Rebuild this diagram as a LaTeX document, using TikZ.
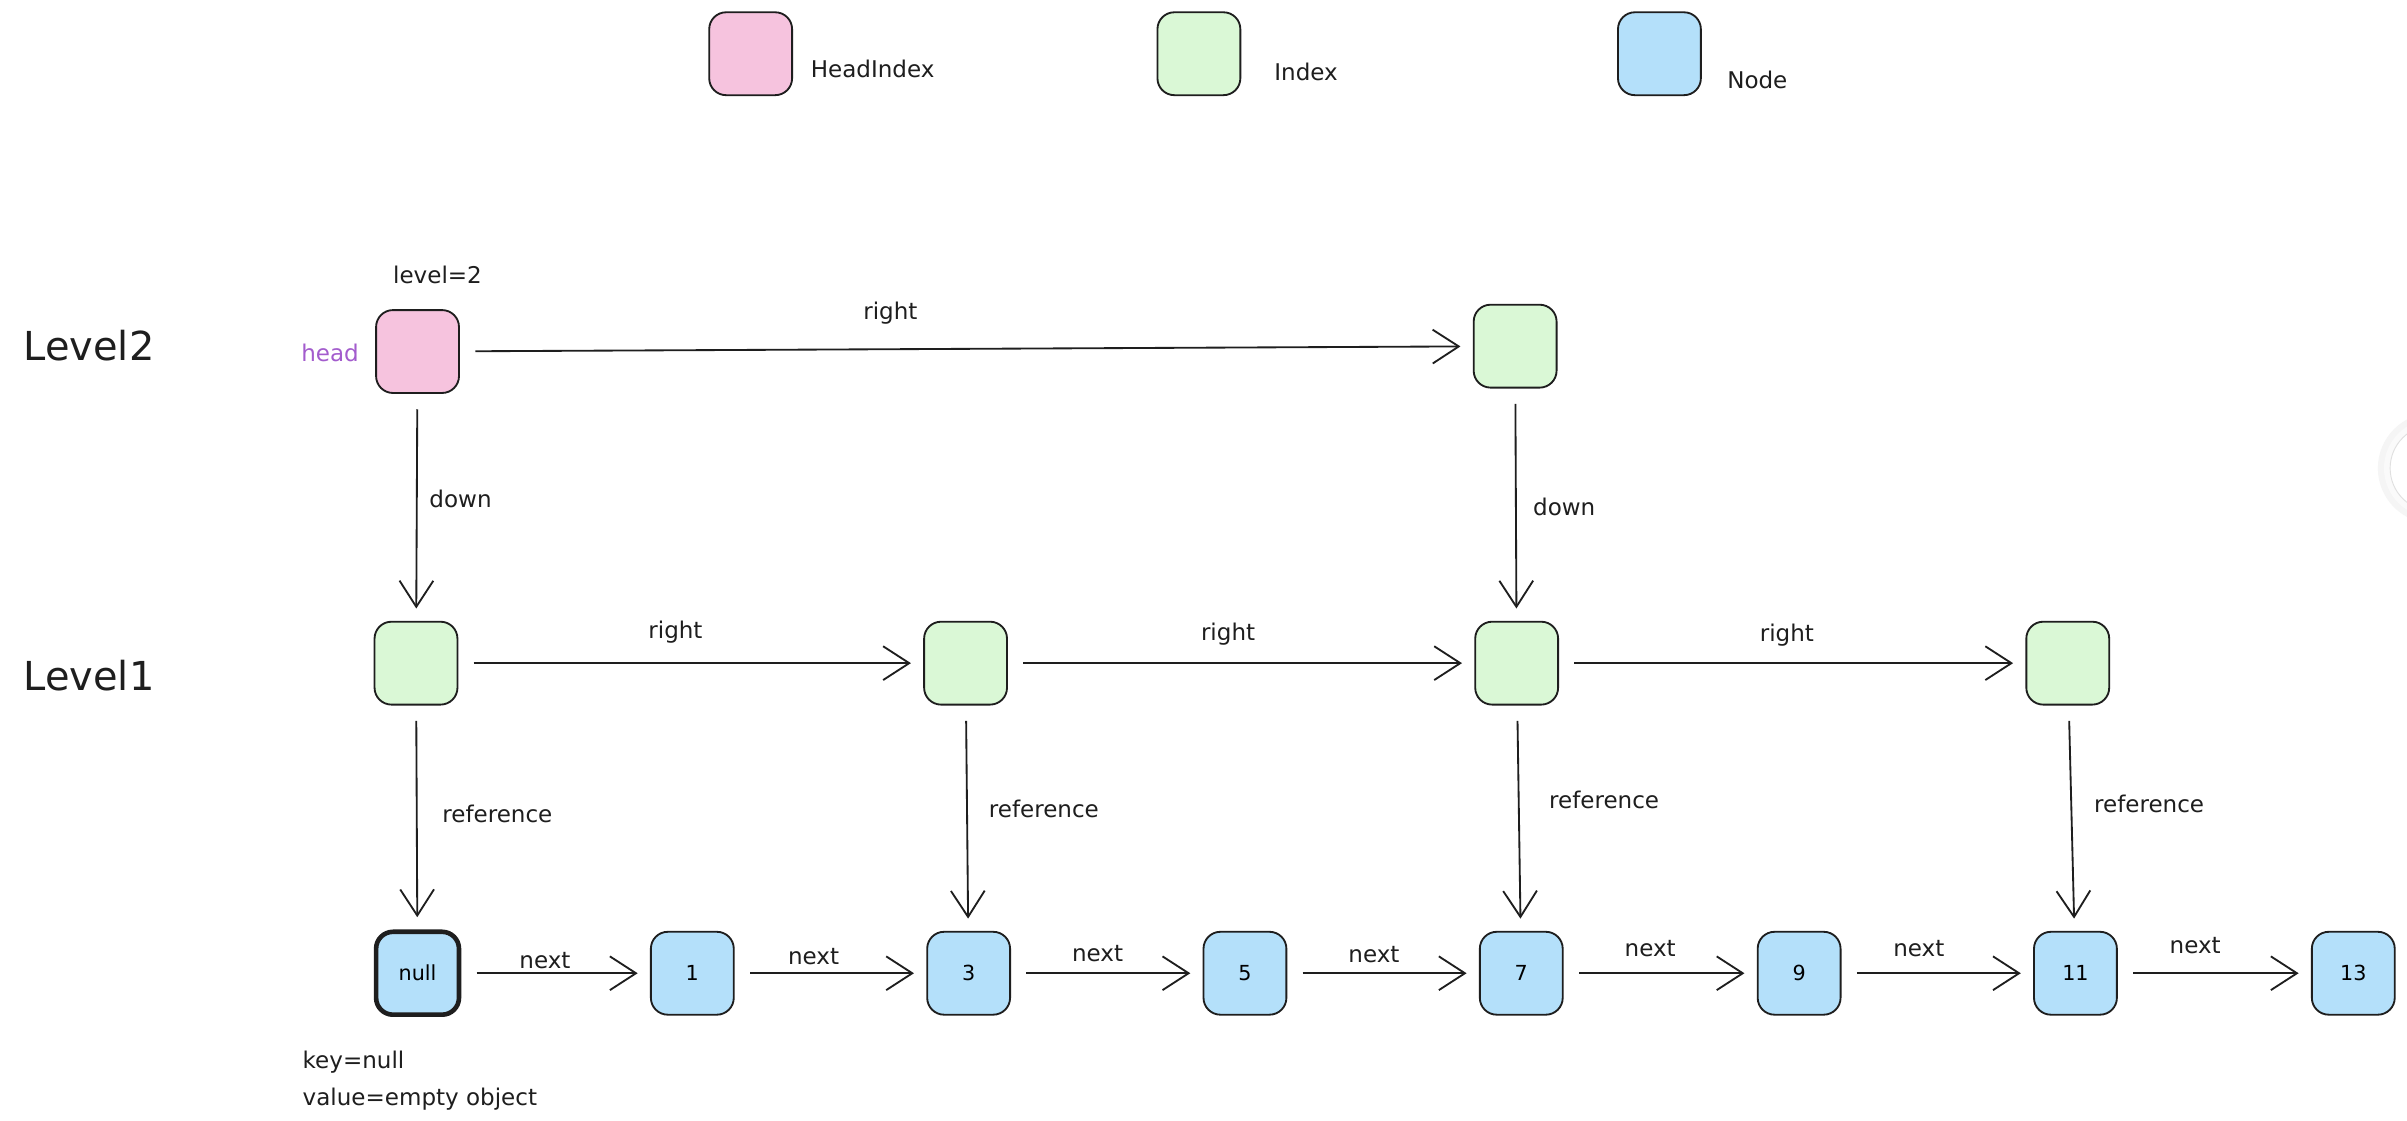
\documentclass[tikz,border=0pt]{standalone}
\usepackage{fontspec}
\setmainfont{DejaVu Sans}
\usetikzlibrary{arrows.meta}
\definecolor{pinkfill}{RGB}{246,195,222}
\definecolor{greenfill}{RGB}{218,248,214}
\definecolor{bluefill}{RGB}{180,224,250}
\definecolor{headpurple}{RGB}{163,92,205}
\definecolor{inkc}{RGB}{30,30,30}
\tikzset{
  box/.style={draw=inkc, line width=1.2pt, rounded corners=11pt, minimum width=54pt, minimum height=54pt, inner sep=0pt},
  hbox/.style={box, fill=pinkfill},
  ibox/.style={box, fill=greenfill},
  nbox/.style={box, fill=bluefill, font=\fontsize{13.5}{16}\selectfont},
  link/.style={draw=inkc, line width=1.2pt, -{Straight Barb[length=17pt,width=22pt,line width=1.2pt]}, shorten <=10pt, shorten >=8pt},
  lbl/.style={font=\fontsize{15}{18}\selectfont, text=inkc, inner sep=0pt},
  biglbl/.style={font=\fontsize{26}{30}\selectfont, text=inkc, inner sep=0pt},
}
\begin{document}
\begin{tikzpicture}[x=1pt,y=-1pt]
\useasboundingbox (0,0) rectangle (1568,730);
\fill[white] (0,0) rectangle (1568,730);
% partial UI circle at right edge
\begin{scope}
\clip (0,0) rectangle (1568,730);
\fill[black!4] (1585,305) circle (36);
\fill[black!2] (1585,305) circle (32);
\draw[black!12, fill=white, line width=0.6pt] (1585,305) circle (28);
\end{scope}
% legend
\node[hbox] (lh) at (489,35) {};
\node[ibox] (li) at (781,35) {};
\node[nbox] (ln) at (1081,35) {};
\node[lbl, anchor=west] (lht) at (528,45) {HeadIndex};
\node[lbl, anchor=west] (lit) at (830,47) {Index};
\node[lbl, anchor=west] (lnt) at (1125,52) {Node};
% level labels
\node[biglbl] (lv2) at (58,225) {Level2};
\node[biglbl] (lv1) at (58,440) {Level1};
% level 2
\node[hbox] (head) at (272,229) {};
\node[lbl] (lvl) at (285,179) {level=2};
\node[lbl, text=headpurple] (hd) at (215,230) {head};
\node[ibox] (g2) at (987,225.5) {};
% level 1
\node[ibox] (a1) at (271,432) {};
\node[ibox] (a2) at (629,432) {};
\node[ibox] (a3) at (988,432) {};
\node[ibox] (a4) at (1347,432) {};
% nodes
\node[nbox, line width=3pt] (n0) at (272,634) {null};
\node[nbox] (n1) at (451,634) {1};
\node[nbox] (n3) at (631,634) {3};
\node[nbox] (n5) at (811,634) {5};
\node[nbox] (n7) at (991,634) {7};
\node[nbox] (n9) at (1172,634) {9};
\node[nbox] (n11) at (1352,634) {11};
\node[nbox] (n13) at (1533,634) {13};
\node[lbl, anchor=west] (kn) at (197,692) {key=null};
\node[lbl, anchor=west] (ve) at (197,716) {value=empty object};
% level 2 connectors
\draw[link] (head) -- (g2);
\node[lbl] (r0) at (580,204) {right};
\draw[link] (head) -- (a1);
\node[lbl] (d1) at (300,325) {down};
\draw[link] (g2) -- (a3);
\node[lbl] (d2) at (1019,330) {down};
% level 1 connectors
\draw[link] (a1) -- (a2);
\node[lbl] (r1) at (440,412) {right};
\draw[link] (a2) -- (a3);
\node[lbl] (r2) at (800,413) {right};
\draw[link] (a3) -- (a4);
\node[lbl] (r3) at (1164,414) {right};
% references
\draw[link] (a1) -- (n0);
\node[lbl] (f1) at (324,530) {reference};
\draw[link] (a2) -- (n3);
\node[lbl] (f2) at (680,527) {reference};
\draw[link] (a3) -- (n7);
\node[lbl] (f3) at (1045,521) {reference};
\draw[link] (a4) -- (n11);
\node[lbl] (f4) at (1400,524) {reference};
% next
\draw[link] (n0) -- (n1);
\node[lbl] (x1) at (355,626) {next};
\draw[link] (n1) -- (n3);
\node[lbl] (x2) at (530,623) {next};
\draw[link] (n3) -- (n5);
\node[lbl] (x3) at (715,621) {next};
\draw[link] (n5) -- (n7);
\node[lbl] (x4) at (895,622) {next};
\draw[link] (n7) -- (n9);
\node[lbl] (x5) at (1075,618) {next};
\draw[link] (n9) -- (n11);
\node[lbl] (x6) at (1250,618) {next};
\draw[link] (n11) -- (n13);
\node[lbl] (x7) at (1430,616) {next};
\end{tikzpicture}
\end{document}
